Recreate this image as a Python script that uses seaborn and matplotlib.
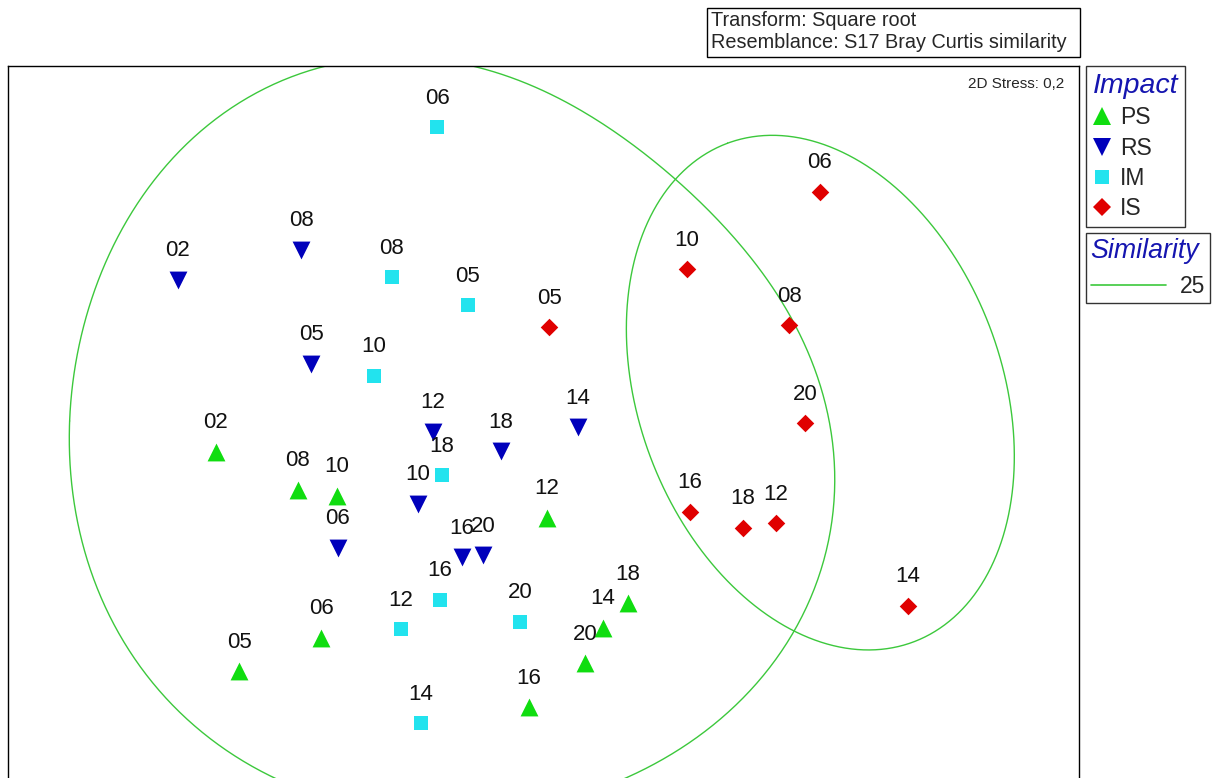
import numpy as np
import pandas as pd
import matplotlib.pyplot as plt
import seaborn as sns
from matplotlib.lines import Line2D
from matplotlib.patches import Rectangle

# nMDS positions (plot units, y grows downward)
ps_lab = ["02", "08", "10", "12", "06", "05", "14", "18", "20", "16"]
ps_x = [216, 298, 337, 547, 321, 239, 603, 628, 585, 529]
ps_y = [452, 490, 496, 518, 638, 671, 628, 603, 663, 707]

rs_lab = ["02", "08", "05", "12", "18", "14", "10", "06", "16", "20"]
rs_x = [178, 301, 311, 433, 501, 578, 418, 338, 462, 483]
rs_y = [280, 250, 364, 432, 451, 427, 504, 548, 557, 555]

im_lab = ["06", "08", "05", "10", "18", "16", "12", "20", "14"]
im_x = [437, 392, 468, 374, 442, 440, 401, 520, 421]
im_y = [127, 277, 305, 376, 475, 600, 629, 622, 723]

is_lab = ["06", "10", "05", "08", "20", "16", "18", "12", "14"]
is_x = [820, 687, 549, 789, 805, 690, 743, 776, 908]
is_y = [192, 269, 327, 325, 423, 512, 528, 523, 606]

# traced points of the two 25% similarity contours
big_cx = [273, 327, 447, 630, 677, 750, 790, 817, 833, 830, 817, 800, 773, 740, 700,
          267, 173, 103, 77, 72, 117, 173]
big_cy = [83, 66, 66, 140, 179, 251, 323, 383, 478, 512, 596, 630, 667, 700, 728,
          776, 702, 610, 519, 427, 243, 152]
small_cx = [680, 643, 623, 625, 640, 690, 700, 767, 833, 883, 933, 983, 1008, 993, 950, 883, 800]
small_cy = [181, 241, 327, 376, 444, 512, 545, 613, 647, 652, 640, 579, 478, 343, 241, 174, 142]

groups = ["PS", "RS", "IM", "IS"]
colors = {"PS": "#10DD10", "RS": "#0000BB", "IM": "#22E3EE", "IS": "#E00000"}
markers = {"PS": "^", "RS": "v", "IM": "s", "IS": "D"}
sizes = {"PS": 165, "RS": 165, "IM": 115, "IS": 80}

df = pd.concat([
    pd.DataFrame({"x": ps_x, "y": ps_y, "lab": ps_lab, "impact": "PS"}),
    pd.DataFrame({"x": rs_x, "y": rs_y, "lab": rs_lab, "impact": "RS"}),
    pd.DataFrame({"x": im_x, "y": im_y, "lab": im_lab, "impact": "IM"}),
    pd.DataFrame({"x": is_x, "y": is_y, "lab": is_lab, "impact": "IS"}),
], ignore_index=True)


def fit_fourier(xs, ys, order=3, n=500):
    # smooth closed curve: least squares Fourier series of radius vs angle
    x = np.asarray(xs, float)
    y = np.asarray(ys, float)
    cx = (x.min() + x.max()) / 2
    cy = (y.min() + y.max()) / 2
    th = np.arctan2(y - cy, x - cx)
    r = np.hypot(x - cx, y - cy)

    def basis(t):
        cols = [np.ones_like(t)]
        for k in range(1, order + 1):
            cols += [np.cos(k * t), np.sin(k * t)]
        return np.column_stack(cols)

    coef = np.linalg.lstsq(basis(th), r, rcond=None)[0]
    t = np.linspace(-np.pi, np.pi, n)
    rr = basis(t) @ coef
    return cx + rr * np.cos(t), cy + rr * np.sin(t)


def fit_ellipse(xs, ys, n=400):
    # least squares conic A x2 + B xy + C y2 + D x + E y = 1
    x = np.asarray(xs, float)
    y = np.asarray(ys, float)
    mx, my, sc = x.mean(), y.mean(), 300.0
    u, v = (x - mx) / sc, (y - my) / sc
    G = np.column_stack([u * u, u * v, v * v, u, v])
    A, B, C, D, E = np.linalg.lstsq(G, np.ones_like(u), rcond=None)[0]
    M = np.array([[A, B / 2], [B / 2, C]])
    c = -0.5 * np.linalg.solve(M, [D, E])
    k = 1 + c @ M @ c
    lam, Q = np.linalg.eigh(M)
    t = np.linspace(0, 2 * np.pi, n)
    pts = Q @ np.vstack([np.sqrt(k / lam[0]) * np.cos(t), np.sqrt(k / lam[1]) * np.sin(t)])
    return pts[0] * sc + mx + c[0] * sc, pts[1] * sc + my + c[1] * sc


sns.set_style("white")
plt.rcParams["font.family"] = ["Liberation Sans", "DejaVu Sans"]

fig = plt.figure(figsize=(12.21, 7.78), dpi=100)
W, H = 1221, 778
ax = fig.add_axes([8 / W, 1 - 790 / H, (1079 - 8) / W, (790 - 66) / H])

line_col = "#3CC83C"
ex, ey = fit_fourier(big_cx, big_cy, order=3)
ax.plot(ex, ey, color=line_col, lw=1.0, zorder=1)
ex, ey = fit_ellipse(small_cx, small_cy)
ax.plot(ex, ey, color=line_col, lw=1.0, zorder=1)

for g in groups:
    sub = df[df.impact == g]
    sns.scatterplot(data=sub, x="x", y="y", marker=markers[g], color=colors[g],
                    s=sizes[g], linewidth=0, legend=False, ax=ax, zorder=3)
    for _, r in sub.iterrows():
        ax.annotate(r.lab, (r.x, r.y), xytext=(0, 29), textcoords="offset pixels",
                    ha="center", va="center", fontsize=16, color="#111111", zorder=4)

ax.set_xlim(8, 1079)
ax.set_ylim(790, 66)
ax.set_xticks([])
ax.set_yticks([])
ax.set_xlabel("")
ax.set_ylabel("")
for sp in ax.spines.values():
    sp.set_color("black")
    sp.set_linewidth(1.0)

ax.text(0.986, 0.975, "2D Stress: 0,2", transform=ax.transAxes, ha="right", va="center",
        fontsize=11)

# header box
fig.patches.append(Rectangle((707 / W, 1 - 57 / H), 373 / W, 49 / H, transform=fig.transFigure,
                             fill=False, edgecolor="black", lw=1.0))
fig.text(711 / W, 1 - 20 / H, "Transform: Square root", ha="left", va="center", fontsize=14.3)
fig.text(711 / W, 1 - 43 / H, "Resemblance: S17 Bray Curtis similarity", ha="left", va="center",
         fontsize=14.3)

# legends
handles = [Line2D([], [], ls="none", marker=markers[g], color=colors[g],
                  markersize=np.sqrt(sizes[g]), markeredgewidth=0) for g in groups]
leg1 = fig.legend(handles, groups, loc="upper left", bbox_to_anchor=(1086 / W, 1 - 66 / H),
                  borderaxespad=0, frameon=True, fancybox=False, edgecolor="black",
                  fontsize=16.5, title="Impact", alignment="left", handlelength=0.8,
                  handletextpad=0.4, labelspacing=0.32, borderpad=0.3,
                  title_fontproperties={"style": "italic", "size": 20.5})
leg1.get_title().set_color("#1515B0")
leg1.get_frame().set_linewidth(1.0)

sim_handle = [Line2D([], [], color=line_col, lw=1.2)]
leg2 = fig.legend(sim_handle, ["25"], loc="upper left", bbox_to_anchor=(1086 / W, 1 - 233 / H),
                  borderaxespad=0, frameon=True, fancybox=False, edgecolor="black",
                  fontsize=16.5, title="Similarity", alignment="left", handlelength=3.3,
                  handletextpad=0.6, borderpad=0.2,
                  title_fontproperties={"style": "italic", "size": 19.3})
leg2.get_title().set_color("#1515B0")
leg2.get_frame().set_linewidth(1.0)

fig.savefig("out.png", dpi=100)
